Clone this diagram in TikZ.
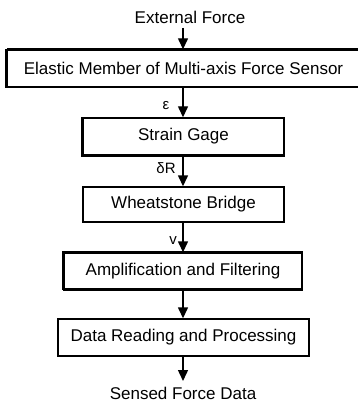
\documentclass[tikz,border=0pt]{standalone}
\usepackage{fontspec}
\setmainfont{Liberation Sans}
\usetikzlibrary{arrows.meta}
\tikzset{
  box/.style={draw, line width=1.4pt, inner sep=0pt, minimum height=36pt, font=\fontsize{17}{20}\selectfont, anchor=center},
  txt/.style={inner sep=0pt, font=\fontsize{17}{20}\selectfont},
  lbl/.style={inner sep=0pt, font=\fontsize{15}{18}\selectfont},
  flow/.style={line width=1.4pt, -{Triangle[width=10pt,length=11pt]}},
  heavy/.style={line width=3pt}
}
\begin{document}
\begin{tikzpicture}[x=1pt,y=-1pt]
\useasboundingbox (0,0) rectangle (357,403);
\node[txt] (ext) at (190,17) {External Force};
\coordinate (extc) at (183,28);
\node[box, minimum width=352pt, minimum height=37pt] (b1) at (183.5,68.5) {Elastic Member of Multi-axis Force Sensor};
\node[box, minimum width=201pt, minimum height=37pt] (b2) at (183.5,136.5) {Strain Gage};
\node[box, minimum width=201pt, minimum height=35pt] (b3) at (183.5,204.5) {Wheatstone Bridge};
\node[box, minimum width=238pt, minimum height=36pt] (b4) at (183,271) {Amplification and Filtering};
\node[box, minimum width=251pt, minimum height=37pt] (b5) at (183.5,337.5) {Data Reading and Processing};
\node[txt] (out) at (183,393) {Sensed Force Data};
\coordinate (outc) at (183,381);
\node[lbl] (eps) at (166,106) {ε};
\node[lbl] (dr) at (166,168) {δR};
\node[lbl] (vv) at (173,241) {v};
% heavier edges
\draw[heavy] (b1.north west) -- (b1.north east);
\draw[heavy] (b1.north west) -- (b1.south west);
\draw[heavy] (b2.north west) -- (b2.south west) -- (b2.south east);
\draw[heavy] (b4.south west) -- (b4.north west) -- (b4.north east);
\draw[heavy] (b4.south west) -- (b4.south east);
% connectors
\draw[flow] (extc) -- (b1.north -| extc);
\draw[flow] (b1.south -| extc) -- (b2.north -| extc);
\draw[flow] (b2.south -| extc) -- (b3.north -| extc);
\draw[flow] (b3.south -| extc) -- (b4.north -| extc);
\draw[flow] (b4.south -| extc) -- (b5.north -| extc);
\draw[flow] (b5.south -| extc) -- (outc);
\end{tikzpicture}
\end{document}
